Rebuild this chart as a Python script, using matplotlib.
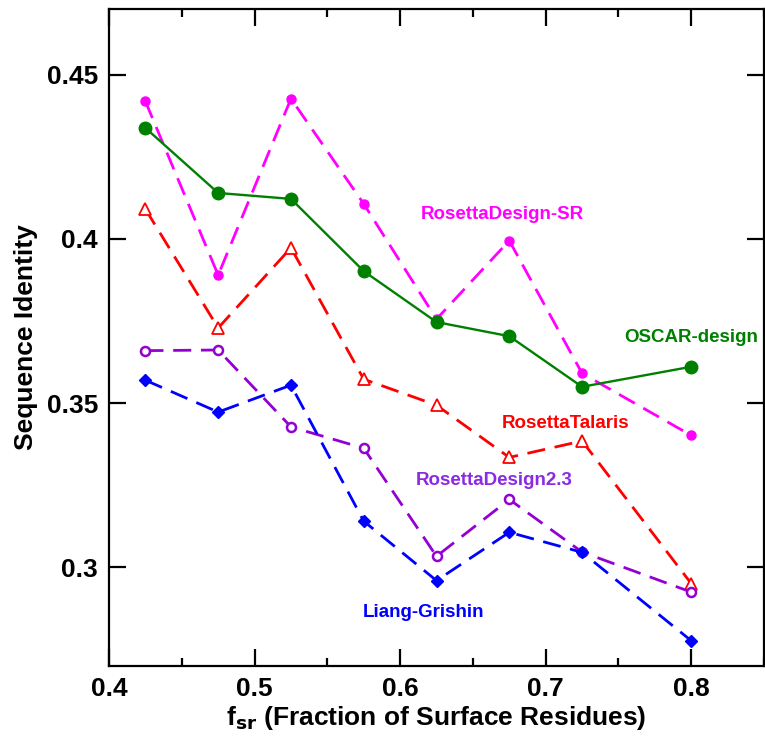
import matplotlib
matplotlib.use("Agg")
import matplotlib.pyplot as plt
from matplotlib.ticker import MultipleLocator

plt.rcParams['font.family'] = ['Liberation Sans', 'DejaVu Sans']
plt.rcParams['font.weight'] = 'bold'

# fraction of surface residues (bin centres)
fsr = [0.425, 0.475, 0.525, 0.575, 0.625, 0.675, 0.725, 0.8]

oscar = [0.4338, 0.4140, 0.4122, 0.3902, 0.3747, 0.3704, 0.3550, 0.3611]
rosetta_sr = [0.4419, 0.3890, 0.4427, 0.4107, 0.3756, 0.3995, 0.3591, 0.3402]
talaris = [0.4091, 0.3729, 0.3973, 0.3573, 0.3494, 0.3335, 0.3385, 0.2951]
rd23 = [0.3660, 0.3662, 0.3428, 0.3363, 0.3034, 0.3207, 0.3047, 0.2925]
liang = [0.3570, 0.3473, 0.3555, 0.3141, 0.2960, 0.3107, 0.3046, 0.2777]

names = ["OSCAR-design", "RosettaDesign-SR", "RosettaTalaris",
         "RosettaDesign2.3", "Liang-Grishin"]
label_xy = [(0.800, 0.3701), (0.6705, 0.4073), (0.7134, 0.3439),
            (0.6647, 0.3265), (0.6161, 0.2864)]

fig = plt.figure(figsize=(7.65, 7.40), dpi=100)
ax = fig.add_axes([0.1425, 0.1, 0.8562, 0.8878])

dash = (6.5, 3.5)
ax.plot(fsr, oscar, '-', color='#008000', lw=1.7, marker='o', ms=9,
        mfc='#008000', mec='#008000', zorder=5)
ax.plot(fsr, rosetta_sr, color='#ff00ff', lw=2, dashes=dash, marker='o',
        ms=6.5, mfc='#ff00ff', mec='#ff00ff', zorder=4)
ax.plot(fsr, talaris, color='#ff0000', lw=2, dashes=dash, marker='^',
        ms=9, mfc='white', mec='#ff0000', mew=1.3, zorder=3)
ax.plot(fsr, rd23, color='#9400d3', lw=2, dashes=dash, marker='o',
        ms=6.5, mfc='white', mec='#9400d3', mew=1.8, zorder=3)
ax.plot(fsr, liang, color='#0000ff', lw=2, dashes=dash, marker='D',
        ms=6, mfc='#0000ff', mec='#0000ff', zorder=3)

colors = ['#008000', '#ff00ff', '#ff0000', '#8a2be2', '#0000ff']
for name, (tx, ty), c in zip(names, label_xy, colors):
    ax.text(tx, ty, name, color=c, fontsize=13.5, fontweight='bold',
            ha='center', va='center')

ax.set_xlim(0.4, 0.85)
ax.set_ylim(0.27, 0.47)
ax.xaxis.set_minor_locator(MultipleLocator(0.05))
ax.set_xticks([0.4, 0.5, 0.6, 0.7, 0.8])
ax.set_xticklabels(['0.4', '0.5', '0.6', '0.7', '0.8'])
ax.set_yticks([0.3, 0.35, 0.4, 0.45])
ax.set_yticklabels(['0.3', '0.35', '0.4', '0.45'])

ax.tick_params(which='both', direction='in', top=True, right=True,
               width=1.6, labelsize=19, pad=8)
ax.tick_params(which='major', length=12)
ax.tick_params(which='minor', length=6)
for s in ax.spines.values():
    s.set_linewidth(1.6)

ax.set_xlabel(r'f$_{\mathbf{sr}}$ (Fraction of Surface Residues)',
              fontsize=19, fontweight='bold', labelpad=2)
ax.set_ylabel('Sequence Identity', fontsize=19, fontweight='bold', labelpad=6)

fig.savefig('out.png', dpi=100)
